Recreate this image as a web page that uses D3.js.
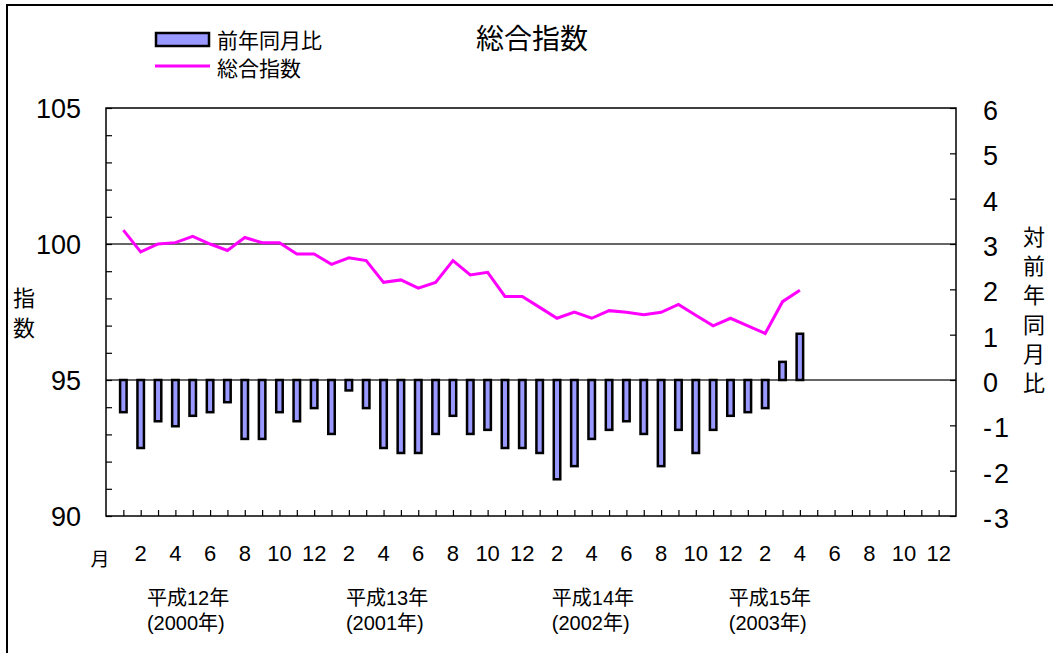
<html>
  <head>
    <script src="https://d3js.org/d3.v7.min.js"></script>
    <title>総合指数</title>
    <style>
      body { margin: 0; background: #fff; }
      text { font-family: "Liberation Sans", Arial, "Noto Sans CJK JP", sans-serif; fill: #000; }
      .jp { font-family: "Noto Sans CJK JP", "Liberation Sans", sans-serif; }
      .axis .domain { display: none; }
      .axis line { stroke: #000; stroke-width: 1.2; }
    </style>
  </head>
  <body>
    <svg id="chart" width="1053" height="653"></svg>
    <script>
      // months Jan 2000 .. Apr 2003
      const months = d3.range(1, 41);
      // 総合指数 (left axis)
      const indexValues = [100.51, 99.71, 100.0, 100.05, 100.28, 100.0, 99.76, 100.24, 100.05, 100.05, 99.63, 99.63,
                           99.25, 99.49, 99.39, 98.59, 98.68, 98.38, 98.59, 99.39, 98.86, 98.96, 98.07, 98.07,
                           97.67, 97.27, 97.50, 97.27, 97.55, 97.49, 97.40, 97.49, 97.78, 97.38, 96.99, 97.27,
                           96.99, 96.71, 97.88, 98.30];
      // 前年同月比 (right axis)
      const yoyValues = [-0.71, -1.50, -0.91, -1.02, -0.79, -0.71, -0.49, -1.30, -1.30, -0.71, -0.91, -0.62,
                         -1.19, -0.23, -0.62, -1.50, -1.61, -1.61, -1.19, -0.79, -1.19, -1.10, -1.50, -1.50,
                         -1.61, -2.19, -1.90, -1.30, -1.10, -0.91, -1.19, -1.90, -1.10, -1.61, -1.10, -0.79,
                         -0.71, -0.62, 0.40, 1.02];
      const leftTicks = [90, 95, 100, 105];
      const rightTicks = [-3, -2, -1, 0, 1, 2, 3, 4, 5, 6];
      const monthTicks = d3.range(2, 49, 2);
      const monthLabels = monthTicks.map(m => String((m - 1) % 12 + 1));
      const eraLabels = ["平成12年", "平成13年", "平成14年", "平成15年"];
      const yearLabels = ["(2000年)", "(2001年)", "(2002年)", "(2003年)"];

      const svg = d3.select("svg#chart");
      const plot = {left: 106, right: 956, top: 108, bottom: 516};

      const xScale = d3.scaleLinear().domain([0, 49]).range([plot.left, plot.right]);
      const yLeft = d3.scaleLinear().domain([90, 105]).range([plot.bottom, plot.top]);
      const yRight = d3.scaleLinear().domain([-3, 6]).range([plot.bottom, plot.top]);

      // outer frame
      svg.append("rect")
        .attr("x", 7).attr("y", 5).attr("width", 1100).attr("height", 700)
        .attr("fill", "none").attr("stroke", "#000").attr("stroke-width", 2);

      // gridlines at 100 and 95
      svg.selectAll("line.grid").data([100, 95])
        .join("line")
          .attr("class", "grid")
          .attr("x1", plot.left).attr("x2", plot.right)
          .attr("y1", d => yLeft(d)).attr("y2", d => yLeft(d))
          .attr("stroke", "#333").attr("stroke-width", 1.5);

      // ticks (inside)
      svg.append("g").attr("class", "axis")
        .attr("transform", "translate(" + plot.left + ",0)")
        .call(d3.axisRight(yLeft).tickValues(d3.range(90, 106)).tickSize(6).tickFormat(""));
      svg.append("g").attr("class", "axis")
        .attr("transform", "translate(" + plot.right + ",0)")
        .call(d3.axisLeft(yRight).tickValues(rightTicks).tickSize(6).tickFormat(""));
      svg.append("g").attr("class", "axis")
        .attr("transform", "translate(0," + plot.bottom + ")")
        .call(d3.axisTop(xScale).tickValues(d3.range(1, 49)).tickSize(6).tickFormat(""));

      // plot border
      svg.append("rect")
        .attr("x", plot.left).attr("y", plot.top)
        .attr("width", plot.right - plot.left).attr("height", plot.bottom - plot.top)
        .attr("fill", "none").attr("stroke", "#000").attr("stroke-width", 1.5);

      // bars
      const barW = 6.5;
      svg.selectAll("rect.bar").data(yoyValues)
        .join("rect")
          .attr("class", "bar")
          .attr("x", (d, i) => xScale(months[i]) - barW / 2)
          .attr("y", d => yRight(Math.max(0, d)))
          .attr("width", barW)
          .attr("height", d => Math.abs(yRight(d) - yRight(0)))
          .attr("fill", "#9999ff")
          .attr("stroke", "#000")
          .attr("stroke-width", 2.5);

      // index line
      const line = d3.line()
        .x((d, i) => xScale(months[i]))
        .y(d => yLeft(d));
      svg.append("path")
        .datum(indexValues)
        .attr("d", line)
        .attr("fill", "none")
        .attr("stroke", "#ff00ff")
        .attr("stroke-width", 3)
        .attr("stroke-linejoin", "miter");

      // left labels
      svg.selectAll("text.lt").data(leftTicks)
        .join("text")
          .attr("class", "lt")
          .attr("x", 81)
          .attr("y", d => yLeft(d) + 10)
          .attr("text-anchor", "end")
          .style("font-size", "27px")
          .text(d => d);

      // right labels (minus sign set apart like the original)
      const rt = svg.selectAll("text.rt").data(rightTicks)
        .join("text")
          .attr("class", "rt")
          .attr("x", 983)
          .attr("y", d => yRight(d) + 12)
          .style("font-size", "27px");
      rt.filter(d => d < 0).append("tspan").text("-");
      rt.append("tspan")
          .attr("dx", d => d < 0 ? 2 : 0)
          .text(d => Math.abs(d));

      // month labels
      svg.selectAll("text.mt").data(monthTicks)
        .join("text")
          .attr("class", "mt")
          .attr("x", d => xScale(d))
          .attr("y", 561)
          .attr("text-anchor", "middle")
          .style("font-size", "22px")
          .text((d, i) => monthLabels[i]);
      svg.append("text").attr("class", "jp")
        .attr("x", 100).attr("y", 566)
        .attr("text-anchor", "middle")
        .style("font-size", "19px")
        .text("月");

      // year labels
      const yearPos = [2.36, 13.83, 25.7, 35.9];
      eraLabels.forEach((t, i) => {
        svg.append("text")
          .attr("x", xScale(yearPos[i]))
          .attr("y", 605)
          .style("font-size", "20px")
          .text(t);
        svg.append("text")
          .attr("x", xScale(yearPos[i]))
          .attr("y", 630)
          .style("font-size", "20px")
          .text(yearLabels[i]);
      });

      // axis titles (vertical)
      "指数".split("").forEach((c, i) => {
        svg.append("text").attr("class", "jp")
          .attr("x", 24).attr("y", 306 + i * 30)
          .attr("text-anchor", "middle")
          .style("font-size", "22px")
          .text(c);
      });
      "対前年同月比".split("").forEach((c, i) => {
        svg.append("text").attr("class", "jp")
          .attr("x", 1034).attr("y", 245 + i * 29.2)
          .attr("text-anchor", "middle")
          .style("font-size", "22px")
          .text(c);
      });

      // title
      svg.append("text").attr("class", "jp")
        .attr("x", 532).attr("y", 49)
        .attr("text-anchor", "middle")
        .style("font-size", "28px")
        .text("総合指数");

      // legend
      svg.append("rect")
        .attr("x", 156).attr("y", 33).attr("width", 53).attr("height", 13)
        .attr("fill", "#9999ff").attr("stroke", "#000").attr("stroke-width", 2.5);
      svg.append("text").attr("class", "jp")
        .attr("x", 217).attr("y", 48)
        .style("font-size", "21px")
        .text("前年同月比");
      svg.append("line")
        .attr("x1", 155).attr("x2", 210).attr("y1", 66).attr("y2", 66)
        .attr("stroke", "#ff00ff").attr("stroke-width", 3);
      svg.append("text").attr("class", "jp")
        .attr("x", 217).attr("y", 76)
        .style("font-size", "21px")
        .text("総合指数");
    </script>
  </body>
</html>
